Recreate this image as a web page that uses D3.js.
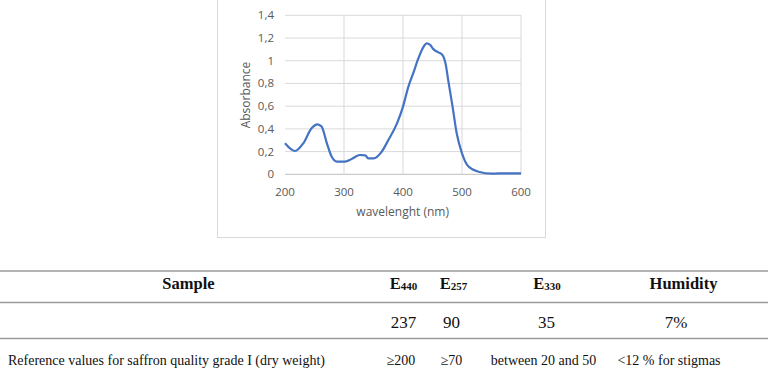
<!DOCTYPE html>
<html>
<head>
<meta charset="utf-8">
<script src="https://cdn.jsdelivr.net/npm/d3@7"></script>
<style>
  body { margin: 0; background: #fff; }
  svg { display: block; }
</style>
</head>
<body>
<svg id="page" width="768" height="369"></svg>
<script>
// spectrum
const wavelength = [200, 217, 231, 245, 255, 262, 271, 279, 288, 302, 313, 327, 336, 341, 350, 364, 375, 390, 400, 409, 418, 426, 435, 440, 446, 452, 460, 467, 472, 477, 484, 491, 500, 511, 528, 551, 573, 600];
const absorbance = [0.273, 0.205, 0.273, 0.405, 0.44, 0.42, 0.273, 0.156, 0.112, 0.112, 0.135, 0.17, 0.167, 0.14, 0.14, 0.2, 0.30, 0.45, 0.596, 0.77, 0.90, 1.02, 1.124, 1.153, 1.139, 1.10, 1.074, 1.05, 0.977, 0.816, 0.596, 0.361, 0.185, 0.068, 0.023, 0.006, 0.009, 0.009];
const xTicks = [200, 300, 400, 500, 600];
const yTicks = [0, 0.2, 0.4, 0.6, 0.8, 1, 1.2, 1.4];

// table
const headers = [
  { base: "Sample", sub: "" },
  { base: "E", sub: "440" },
  { base: "E", sub: "257" },
  { base: "E", sub: "330" },
  { base: "Humidity", sub: "" }
];
const sampleRow = ["", "237", "90", "35", "7%"];
const referenceRow = ["Reference values for saffron quality grade I (dry weight)", "≥200", "≥70", "between 20 and 50", "<12 % for stigmas"];

const svg = d3.select("#page");

// chart frame
svg.append("rect")
  .attr("x", 217.5).attr("y", -1)
  .attr("width", 328).attr("height", 238.5)
  .attr("fill", "#fff")
  .attr("stroke", "#d9d9d9")
  .attr("stroke-width", 1);

let x = d3.scaleLinear().domain([200, 600]).range([285, 521]);
let y = d3.scaleLinear().domain([0, 1.4]).range([174.3, 15.3]);

let grid = svg.append("g");
grid.selectAll(".hg")
  .data(yTicks)
  .join("line")
  .attr("x1", x(200)).attr("x2", x(600))
  .attr("y1", d => y(d)).attr("y2", d => y(d))
  .attr("stroke", d => d === 0 ? "#bfbfbf" : "#d9d9d9")
  .attr("stroke-width", 1);
grid.selectAll(".vg")
  .data(xTicks.slice(1))
  .join("line")
  .attr("y1", y(0)).attr("y2", y(1.4))
  .attr("x1", d => x(d)).attr("x2", d => x(d))
  .attr("stroke", "#d9d9d9")
  .attr("stroke-width", 1);

let fmt = d => String(+d.toFixed(1)).replace(".", ",");

svg.append("g")
  .selectAll("text")
  .data(yTicks)
  .join("text")
  .attr("x", 274)
  .attr("y", d => y(d) + 4)
  .attr("text-anchor", "end")
  .attr("font-family", "Open Sans")
  .attr("font-size", 11.5)
  .attr("fill", "#595959")
  .text(fmt);

svg.append("g")
  .selectAll("text")
  .data(xTicks)
  .join("text")
  .attr("x", d => x(d))
  .attr("y", 195.5)
  .attr("text-anchor", "middle")
  .attr("font-family", "Open Sans")
  .attr("font-size", 11.5)
  .attr("fill", "#595959")
  .text(d => d);

svg.append("text")
  .attr("x", 402.7).attr("y", 216)
  .attr("text-anchor", "middle")
  .attr("font-family", "Open Sans")
  .attr("font-size", 12)
  .attr("fill", "#595959")
  .text("wavelenght (nm)");

svg.append("text")
  .attr("transform", "translate(249.5,95) rotate(-90)")
  .attr("text-anchor", "middle")
  .attr("font-family", "Open Sans")
  .attr("font-size", 12)
  .attr("fill", "#595959")
  .text("Absorbance");

let points = wavelength.map((w, i) => [w, absorbance[i]]);
let line = d3.line()
  .x(d => x(d[0]))
  .y(d => y(d[1]))
  .curve(d3.curveMonotoneX);

svg.append("path")
  .datum(points)
  .attr("d", line)
  .attr("fill", "none")
  .attr("stroke", "#4472c4")
  .attr("stroke-width", 2.2)
  .attr("stroke-linejoin", "round");

// table rules
[271, 302.5, 338.5].forEach(ly => {
  svg.append("line")
    .attr("x1", 0).attr("x2", 768)
    .attr("y1", ly).attr("y2", ly)
    .attr("stroke", "#9a9a9a")
    .attr("stroke-width", 1.6);
});

const headX = [188.5, 403.5, 453.5, 547, 683.5];
const valX = [0, 403.5, 451.5, 546.5, 676];
const refX = [8, 401, 451.5, 543.5, 669];
const tfont = "'Liberation Serif', 'Times New Roman', serif";

headers.forEach((h, i) => {
  let t = svg.append("text")
    .attr("x", headX[i]).attr("y", 288.5)
    .attr("text-anchor", "middle")
    .attr("font-family", tfont)
    .attr("font-weight", "bold")
    .attr("font-size", 16.5)
    .attr("fill", "#111");
  t.append("tspan").text(h.base);
  if (h.sub) {
    t.append("tspan")
      .attr("font-size", 11)
      .attr("dy", 1)
      .text(h.sub);
  }
});

sampleRow.forEach((v, i) => {
  svg.append("text")
    .attr("x", valX[i]).attr("y", 328)
    .attr("text-anchor", "middle")
    .attr("font-family", tfont)
    .attr("font-size", 17)
    .attr("fill", "#111")
    .text(v);
});

referenceRow.forEach((v, i) => {
  svg.append("text")
    .attr("x", refX[i])
    .attr("y", 364.5)
    .attr("text-anchor", i === 0 ? "start" : "middle")
    .attr("font-family", tfont)
    .attr("font-size", 14)
    .attr("fill", "#111")
    .text(v);
});
</script>
</body>
</html>
